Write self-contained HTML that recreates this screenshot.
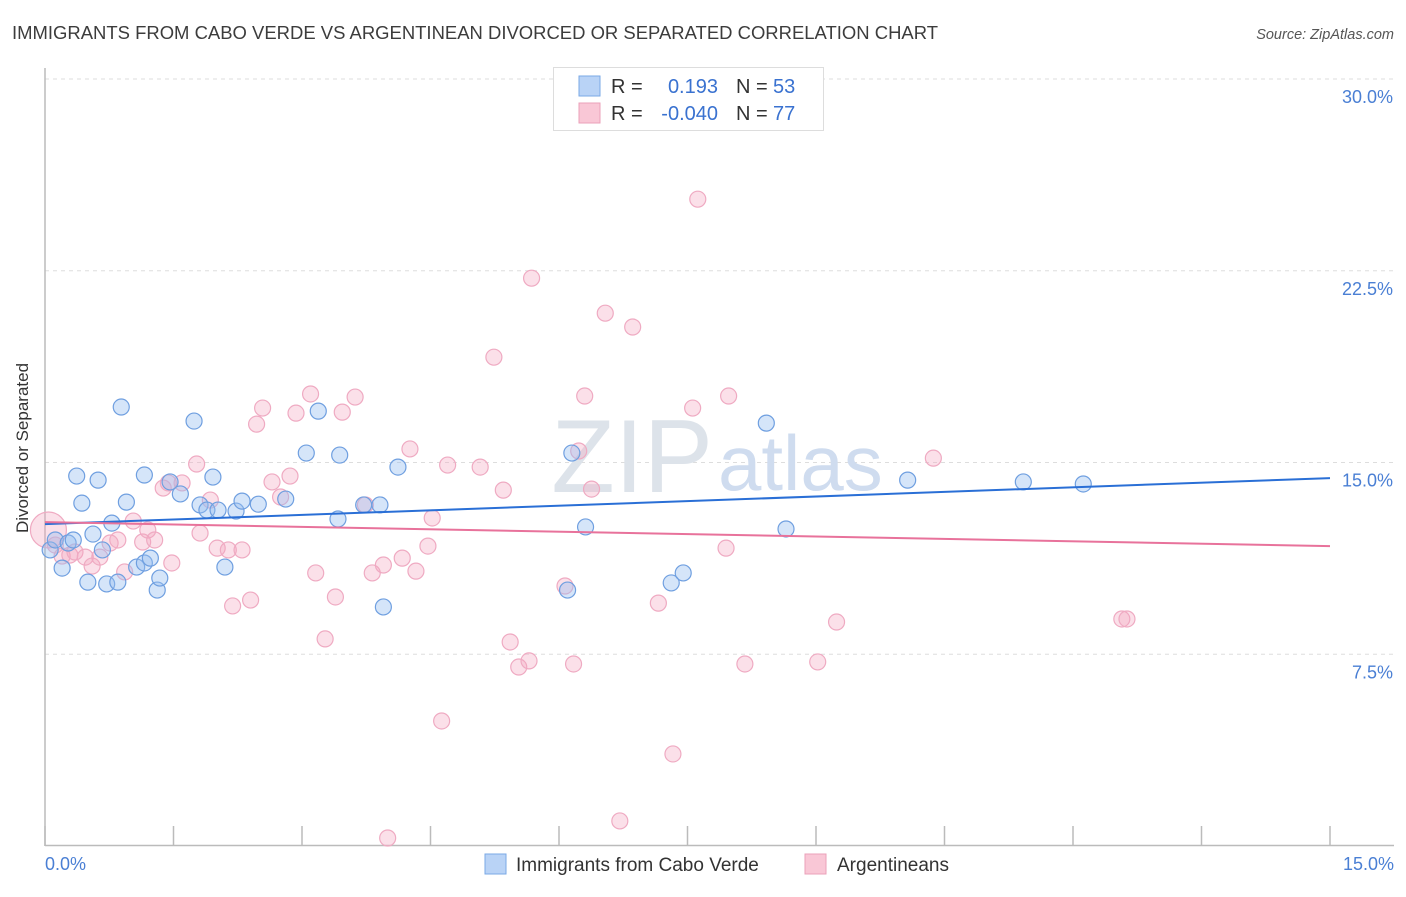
<!DOCTYPE html>
<html><head><meta charset="utf-8"><style>
body{margin:0;background:#fff;font-family:"Liberation Sans",sans-serif;}
svg text{font-family:"Liberation Sans",sans-serif;}
</style></head><body>
<svg width="1406" height="892" viewBox="0 0 1406 892" xmlns="http://www.w3.org/2000/svg">
<text x="12" y="39" font-size="18" fill="#3c3c3c" textLength="926" lengthAdjust="spacingAndGlyphs">IMMIGRANTS FROM CABO VERDE VS ARGENTINEAN DIVORCED OR SEPARATED CORRELATION CHART</text>
<text x="1394" y="39" font-size="14.5" fill="#555" font-style="italic" text-anchor="end">Source: ZipAtlas.com</text>
<g id="grid"></g>
<text x="713" y="492" font-size="104" fill="#dde3ea" text-anchor="end" font-family="Liberation Serif">ZIP</text>
<text x="718" y="490" font-size="78" fill="#cfdcef">atlas</text>
<g id="axes"></g>
<g id="pts"></g>
<g id="trend"></g>
<text x="35" y="455" font-size="17" fill="#333" text-anchor="middle" transform="rotate(-90 28 455)">Divorced or Separated</text>
<text x="45" y="870" font-size="18" fill="#4a7fd4">0.0%</text>
<text x="1394" y="870" font-size="18" fill="#4a7fd4" text-anchor="end">15.0%</text>
<g>
<rect x="553.5" y="67.5" width="270" height="63" fill="#fff" stroke="#ddd"/>
<rect x="579" y="76" width="21" height="20" fill="#b9d3f6" stroke="#7aa8e6"/>
<rect x="579" y="103" width="21" height="20" fill="#f9c7d6" stroke="#eba0b9"/>
<text x="611" y="93" font-size="20" fill="#333">R = </text><text x="718" y="93" font-size="20" fill="#3a72d0" text-anchor="end">0.193</text>
<text x="736" y="93" font-size="20" fill="#333">N = </text><text x="773" y="93" font-size="20" fill="#3a72d0">53</text>
<text x="611" y="120" font-size="20" fill="#333">R = </text><text x="718" y="120" font-size="20" fill="#3a72d0" text-anchor="end">-0.040</text>
<text x="736" y="120" font-size="20" fill="#333">N = </text><text x="773" y="120" font-size="20" fill="#3a72d0">77</text>
</g>
<g>
<rect x="485" y="854" width="21" height="20" fill="#b9d3f6" stroke="#7aa8e6"/>
<text x="516" y="871" font-size="19" fill="#333">Immigrants from Cabo Verde</text>
<rect x="805" y="854" width="21" height="20" fill="#f9c7d6" stroke="#eba0b9"/>
<text x="837" y="871" font-size="19" fill="#333">Argentineans</text>
</g>
</svg>
<script>
const yTicks=[7.5,15,22.5,30];
const yTickLabels=["7.5%","15.0%","22.5%","30.0%"];
const xTicks=[0,1.5,3,4.5,6,7.5,9,10.5,12,13.5,15];
const blueX=[0.06,0.12,0.20,0.27,0.33,0.37,0.43,0.50,0.56,0.62,0.67,0.72,0.78,0.85,0.89,0.95,1.07,1.16,1.16,1.23,1.31,1.34,1.46,1.58,1.74,1.81,1.89,1.96,2.02,2.10,2.23,2.30,2.49,2.81,3.05,3.19,3.42,3.44,3.72,3.91,3.95,4.12,6.15,6.10,6.31,7.31,7.45,8.42,8.65,10.07,11.42,12.12];
const blueY=[11.58,11.97,10.87,11.85,11.97,14.47,13.41,10.32,12.20,14.31,11.58,10.25,12.63,10.32,17.17,13.45,10.91,14.51,11.07,11.26,10.01,10.48,14.24,13.77,16.62,13.34,13.14,14.43,13.14,10.91,13.10,13.49,13.37,13.57,15.37,17.01,12.79,15.29,13.34,13.34,9.35,14.82,15.37,10.01,12.48,10.29,10.68,16.54,12.40,14.31,14.24,14.16];
const pinkX=[0.04,0.12,0.20,0.29,0.35,0.47,0.55,0.64,0.76,0.85,0.93,1.03,1.14,1.20,1.28,1.38,1.44,1.48,1.60,1.77,1.81,1.93,2.01,2.14,2.19,2.30,2.40,2.47,2.54,2.65,2.75,2.86,2.93,3.10,3.16,3.27,3.39,3.47,3.62,3.74,3.82,3.95,4.00,4.17,4.26,4.33,4.47,4.52,4.63,4.70,5.08,5.24,5.35,5.43,5.53,5.65,5.68,6.07,6.17,6.23,6.30,6.38,6.54,6.71,6.86,7.16,7.33,7.56,7.62,7.95,7.98,8.17,9.02,9.24,10.37,12.57,12.63];
const pinkY=[12.36,11.77,11.34,11.38,11.50,11.30,10.95,11.30,11.85,11.97,10.72,12.71,11.89,12.36,11.97,14.00,14.20,11.07,14.20,14.94,12.24,13.53,11.65,11.58,9.39,11.58,9.62,16.50,17.13,14.24,13.65,14.47,16.93,17.68,10.68,8.10,9.74,16.97,17.56,13.34,10.68,10.99,0.31,11.26,15.53,10.75,11.73,12.83,4.89,14.90,14.82,19.12,13.92,7.98,7.00,7.24,22.21,10.17,7.12,15.45,17.60,13.96,20.84,0.98,20.30,9.50,3.60,17.13,25.30,11.65,17.60,7.12,7.20,8.76,15.17,8.88,8.88];
const blueTrend=[12.59,14.39];
const pinkTrend=[12.67,11.73];
const NS="http://www.w3.org/2000/svg";
const xs=v=>45+v*(1330-45)/15;
const ys=v=>846-v*(846-79)/30;
function mk(t,a,p){const e=document.createElementNS(NS,t);for(const k in a)e.setAttribute(k,a[k]);p.appendChild(e);return e;}
const grid=document.getElementById('grid'),axes=document.getElementById('axes'),pts=document.getElementById('pts'),tr=document.getElementById('trend');
yTicks.forEach((v,i)=>{
const l=mk('line',{x1:45,x2:1394,y1:ys(v),y2:ys(v),stroke:'#ddd','stroke-dasharray':'4,4'},grid);


const t=mk('text',{x:1393,y:ys(v)+24,'font-size':18,fill:'#4a7fd4','text-anchor':'end'},grid);
t.textContent=yTickLabels[i];


});
const ya=mk('line',{x1:45,x2:45,y1:68,y2:846,stroke:'#bbb','stroke-width':1.5},axes);


const xa=mk('line',{x1:45,x2:1394,y1:845.5,y2:845.5,stroke:'#bbb','stroke-width':1.5},axes);


xTicks.forEach(v=>{
const t=mk('line',{x1:xs(v),x2:xs(v),y1:826,y2:846,stroke:'#bbb','stroke-width':1.5},axes);


});
pinkX.forEach((x,i)=>{
const c=mk('circle',{cx:xs(x),cy:Math.min(ys(pinkY[i]),838),r:i===0?18:8,fill:'rgba(244,166,192,0.35)',stroke:'#efaac2','stroke-width':1.2},pts);


});
blueX.forEach((x,i)=>{
const c=mk('circle',{cx:xs(x),cy:ys(blueY[i]),r:8,fill:'rgba(150,190,240,0.4)',stroke:'#6f9fe0','stroke-width':1.2},pts);


});
const bl=mk('line',{x1:xs(0),x2:xs(15),y1:ys(blueTrend[0]),y2:ys(blueTrend[1]),stroke:'#2a6fd6','stroke-width':2},tr);


const pl=mk('line',{x1:xs(0),x2:xs(15),y1:ys(pinkTrend[0]),y2:ys(pinkTrend[1]),stroke:'#e8729b','stroke-width':2},tr);


</script>
</body></html>
